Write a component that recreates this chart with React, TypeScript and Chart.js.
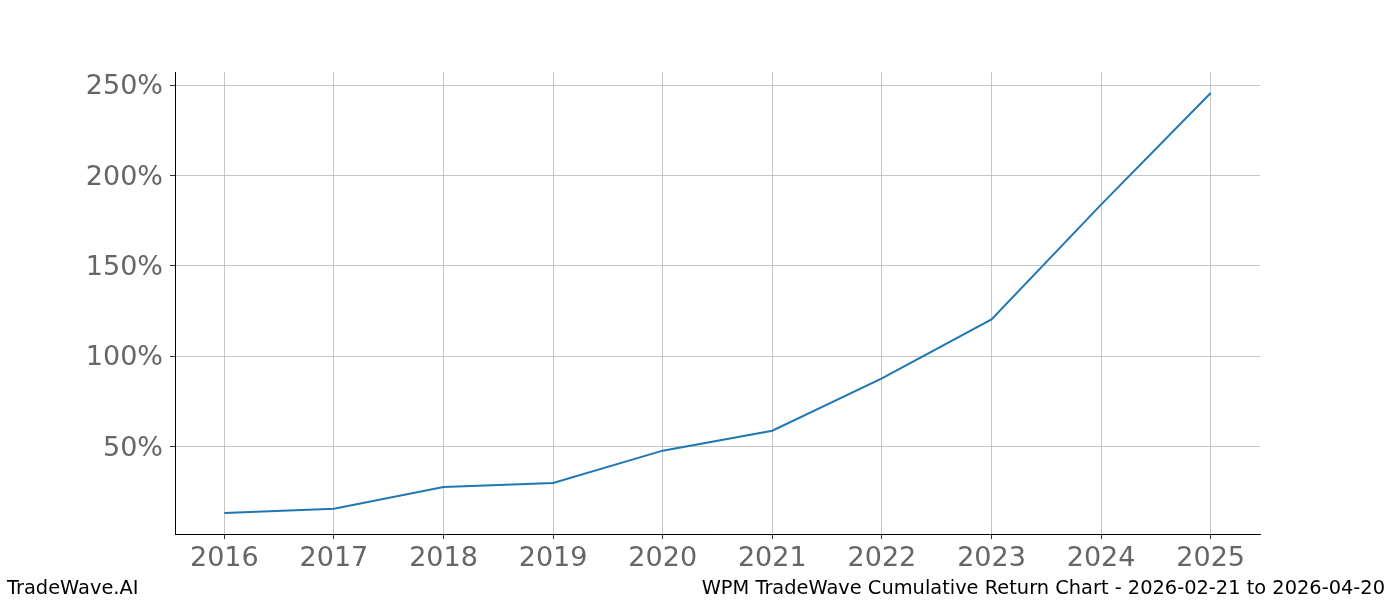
import React, { useEffect, useRef } from "react";
import { Chart, registerables } from "chart.js";

Chart.register(...registerables);

const years = [2016, 2017, 2018, 2019, 2020, 2021, 2022, 2023, 2024, 2025];
const returns = [13.3, 15.7, 27.7, 29.9, 47.8, 58.8, 87.8, 120.4, 183.9, 245.7];
const yTicks = [50, 100, 150, 200, 250];
const xTicks = [2016, 2017, 2018, 2019, 2020, 2021, 2022, 2023, 2024, 2025];
const leftCaption = "TradeWave.AI";
const rightCaption = "WPM TradeWave Cumulative Return Chart - 2026-02-21 to 2026-04-20";

const FONT = "'DejaVu Sans', 'Liberation Sans', sans-serif";

const captionPlugin = {
  id: "captions",
  afterDraw(chart: any) {
    const ctx = chart.ctx as CanvasRenderingContext2D;
    ctx.save();
    ctx.font = `19.4px ${FONT}`;
    ctx.fillStyle = "#000000";
    ctx.textBaseline = "alphabetic";
    ctx.textAlign = "left";
    ctx.fillText(leftCaption, 7, 594);
    ctx.textAlign = "right";
    ctx.fillText(rightCaption, 1385, 594);
    ctx.restore();
  },
};

export default function App() {
  const ref = useRef<HTMLCanvasElement | null>(null);

  useEffect(() => {
    if (!ref.current) return;
    const chart = new Chart(ref.current, {
      type: "line",
      data: {
        datasets: [
          {
            data: years.map((y, i) => ({ x: y, y: returns[i] })),
            borderColor: "#1f77b4",
            borderWidth: 2,
            pointRadius: 0,
            fill: false,
            tension: 0,
          },
        ],
      },
      options: {
        animation: false,
        responsive: false,
        devicePixelRatio: 1,
        layout: { padding: { top: 72, right: 140, bottom: 0, left: 0 } },
        plugins: {
          legend: { display: false },
          tooltip: { enabled: false },
        },
        scales: {
          x: {
            type: "linear",
            min: 2015.55,
            max: 2025.45,
            afterBuildTicks: (axis: any) => {
              axis.ticks = xTicks.map((v) => ({ value: v }));
            },
            afterFit: (scale: any) => {
              scale.height = 66;
            },
            grid: {
              color: "#b8b8b8",
              lineWidth: 0.8,
              tickLength: 5,
              tickColor: "#000000",
            },
            border: { display: true, color: "#000000", width: 1 },
            ticks: {
              autoSkip: false,
              maxRotation: 0,
              padding: 4,
              color: "#666666",
              font: { family: FONT, size: 27 },
              callback: (v: any) => String(v),
            },
          },
          y: {
            type: "linear",
            min: 1.68,
            max: 257.3,
            afterBuildTicks: (axis: any) => {
              axis.ticks = yTicks.map((v) => ({ value: v }));
            },
            afterFit: (scale: any) => {
              scale.width = 175;
            },
            grid: {
              color: "#b8b8b8",
              lineWidth: 0.8,
              tickLength: 5,
              tickColor: "#000000",
            },
            border: { display: true, color: "#000000", width: 1 },
            ticks: {
              autoSkip: false,
              padding: 7,
              labelOffset: 2,
              color: "#666666",
              font: { family: FONT, size: 27 },
              callback: (v: any) => `${v}%`,
            },
          },
        },
      },
      plugins: [captionPlugin],
    });
    return () => chart.destroy();
  }, []);

  return (
    <div style={{ position: "fixed", left: 0, top: 0, width: 1400, height: 600, background: "#ffffff" }}>
      <canvas ref={ref} width={1400} height={600} style={{ width: 1400, height: 600, display: "block" }} />
    </div>
  );
}
